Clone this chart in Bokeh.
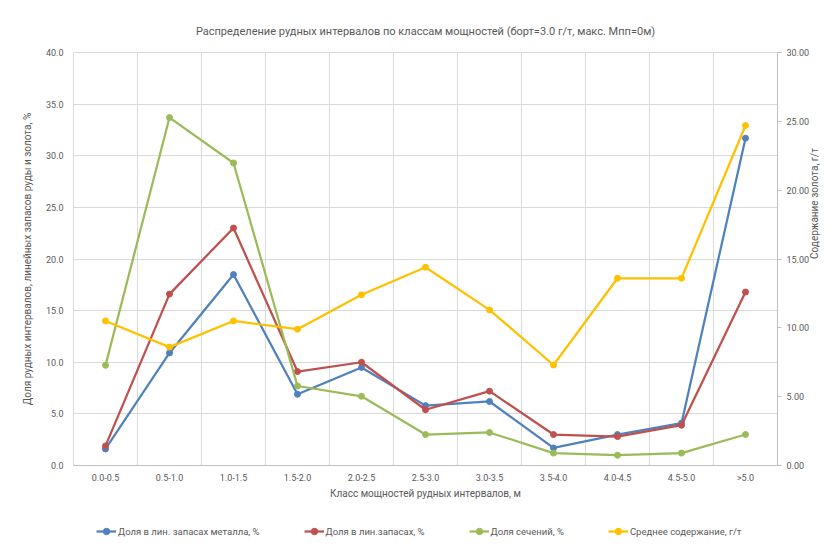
import math
from bokeh.plotting import figure
from bokeh.layouts import column
from bokeh.models import (ColumnDataSource, Range1d, LinearAxis, FixedTicker, Legend,
                          LegendItem, NumeralTickFormatter)
from bokeh.embed import file_html
from bokeh.resources import INLINE

# ---- data ----
categories = ["0.0-0.5", "0.5-1.0", "1.0-1.5", "1.5-2.0", "2.0-2.5", "2.5-3.0",
              "3.0-3.5", "3.5-4.0", "4.0-4.5", "4.5-5.0", ">5.0"]
share_metal = [1.6, 10.9, 18.5, 6.9, 9.5, 5.8, 6.2, 1.7, 3.0, 4.1, 31.7]
share_reserves = [1.9, 16.6, 23.0, 9.1, 10.0, 5.4, 7.2, 3.0, 2.8, 3.9, 16.8]
share_sections = [9.7, 33.7, 29.3, 7.7, 6.7, 3.0, 3.2, 1.2, 1.0, 1.2, 3.0]
avg_grade = [10.5, 8.6, 10.5, 9.9, 12.4, 14.4, 11.3, 7.3, 13.6, 13.6, 24.7]

series_names = ["Доля в лин. запасах металла, %", "Доля в лин.запасах, %",
                "Доля сечений, %", "Среднее содержание, г/т"]
colors = ["#4F81BD", "#C0504D", "#9BBB59", "#FFC000"]

title_text = "Распределение рудных интервалов по классам мощностей (борт=3.0 г/т, макс. Мпп=0м)"
x_label = "Класс мощностей рудных интервалов, м"
y_label = "Доля рудных интервалов, линейных запасов руды и золота, %"
y2_label = "Содержание золота, г/т"

FONT = "Roboto"
TXT = "#595959"
GRID = "#d9d9d9"

x = list(range(len(categories)))
src = ColumnDataSource(dict(x=x, m=share_metal, r=share_reserves, s=share_sections, g=avg_grade))

chart = figure(frame_width=704, frame_height=413, output_backend="svg", toolbar_location=None,
               x_range=Range1d(-0.5, len(categories) - 0.5), y_range=Range1d(0, 40),
               min_border_left=73, min_border_right=56, min_border_top=52, min_border_bottom=35,
               title=title_text)
chart.extra_y_ranges = {"au": Range1d(0, 30)}

chart.title.text_font = FONT
chart.title.text_font_size = "11px"
chart.title.text_font_style = "normal"
chart.title.text_color = TXT
chart.title.align = "center"
chart.title.standoff = 30

chart.outline_line_color = GRID

# x axis
xa = chart.xaxis[0]
xa.ticker = FixedTicker(ticks=x)
xa.major_label_overrides = {i: c for i, c in zip(x, categories)}
xa.axis_label = x_label
xa.axis_label_text_font = FONT
xa.axis_label_text_font_size = "10px"
xa.axis_label_text_font_style = "normal"
xa.axis_label_text_color = TXT
xa.axis_label_standoff = 2
xa.major_label_text_font = FONT
xa.major_label_text_font_size = "9px"
xa.major_label_text_color = TXT
xa.major_tick_line_color = None
xa.minor_tick_line_color = None
xa.axis_line_color = "#bfbfbf"
xa.major_label_standoff = 1

# left axis
ya = chart.yaxis[0]
ya.ticker = FixedTicker(ticks=[0, 5, 10, 15, 20, 25, 30, 35, 40])
ya.formatter = NumeralTickFormatter(format="0.0")
ya.axis_label = y_label
ya.axis_label_text_font = FONT
ya.axis_label_text_font_size = "10px"
ya.axis_label_text_font_style = "normal"
ya.axis_label_text_color = TXT
ya.axis_label_standoff = 10
ya.major_label_text_font = FONT
ya.major_label_text_font_size = "9px"
ya.major_label_text_color = TXT
ya.major_tick_line_color = None
ya.minor_tick_line_color = None
ya.axis_line_color = None
ya.major_label_standoff = 4

# right axis
ra = LinearAxis(y_range_name="au", ticker=FixedTicker(ticks=[0, 5, 10, 15, 20, 25, 30]),
                formatter=NumeralTickFormatter(format="0.00"))
ra.axis_label = y2_label
ra.axis_label_orientation = math.pi / 2
ra.axis_label_text_font = FONT
ra.axis_label_text_font_size = "10px"
ra.axis_label_text_font_style = "normal"
ra.axis_label_text_color = TXT
ra.axis_label_standoff = 2
ra.major_label_text_font = FONT
ra.major_label_text_font_size = "9px"
ra.major_label_text_color = TXT
ra.major_tick_line_color = "#bfbfbf"
ra.major_tick_out = 4
ra.major_tick_in = 0
ra.minor_tick_line_color = None
ra.axis_line_color = "#bfbfbf"
ra.major_label_standoff = 5
chart.add_layout(ra, "right")

# grids
chart.ygrid.ticker = FixedTicker(ticks=[0, 5, 10, 15, 20, 25, 30, 35, 40])
chart.ygrid.grid_line_color = GRID
chart.xgrid.ticker = FixedTicker(ticks=[i + 0.5 for i in x[:-1]])
chart.xgrid.grid_line_color = GRID

for col, color, rng in [("m", colors[0], "default"), ("r", colors[1], "default"),
                        ("s", colors[2], "default"), ("g", colors[3], "au")]:
    chart.line("x", col, source=src, line_color=color, line_width=2.25, y_range_name=rng)
    chart.scatter("x", col, source=src, size=6, fill_color=color, line_color=color, y_range_name=rng)

# legend strip below the chart (its frame is aligned with the chart's frame)
legend_fig = figure(width=833, height=46, output_backend="svg", toolbar_location=None,
                    x_range=Range1d(-0.5, len(categories) - 0.5), y_range=Range1d(1000, 1001),
                    x_axis_type=None, y_axis_type=None,
                    min_border_left=0, min_border_right=0, min_border_top=14, min_border_bottom=0)
legend_fig.outline_line_color = None
legend_fig.xgrid.visible = False
legend_fig.ygrid.visible = False

items = []
for col, name, color in zip(["m", "r", "s", "g"], series_names, colors):
    ln = legend_fig.line("x", col, source=src, line_color=color, line_width=2.25)
    sc = legend_fig.scatter("x", col, source=src, size=6, fill_color=color, line_color=color)
    items.append(LegendItem(label=name, renderers=[ln, sc]))

legend = Legend(items=items, orientation="horizontal", location="center_left",
                label_text_font=FONT, label_text_font_size="9.5px", label_text_color=TXT,
                border_line_color=None, background_fill_alpha=0, spacing=44,
                glyph_width=20, glyph_height=16, label_height=16, label_standoff=2,
                margin=23, padding=4)
legend_fig.add_layout(legend, "center")

p = column(chart, legend_fig, spacing=0)

open("out.html", "w").write(file_html(p, INLINE))
